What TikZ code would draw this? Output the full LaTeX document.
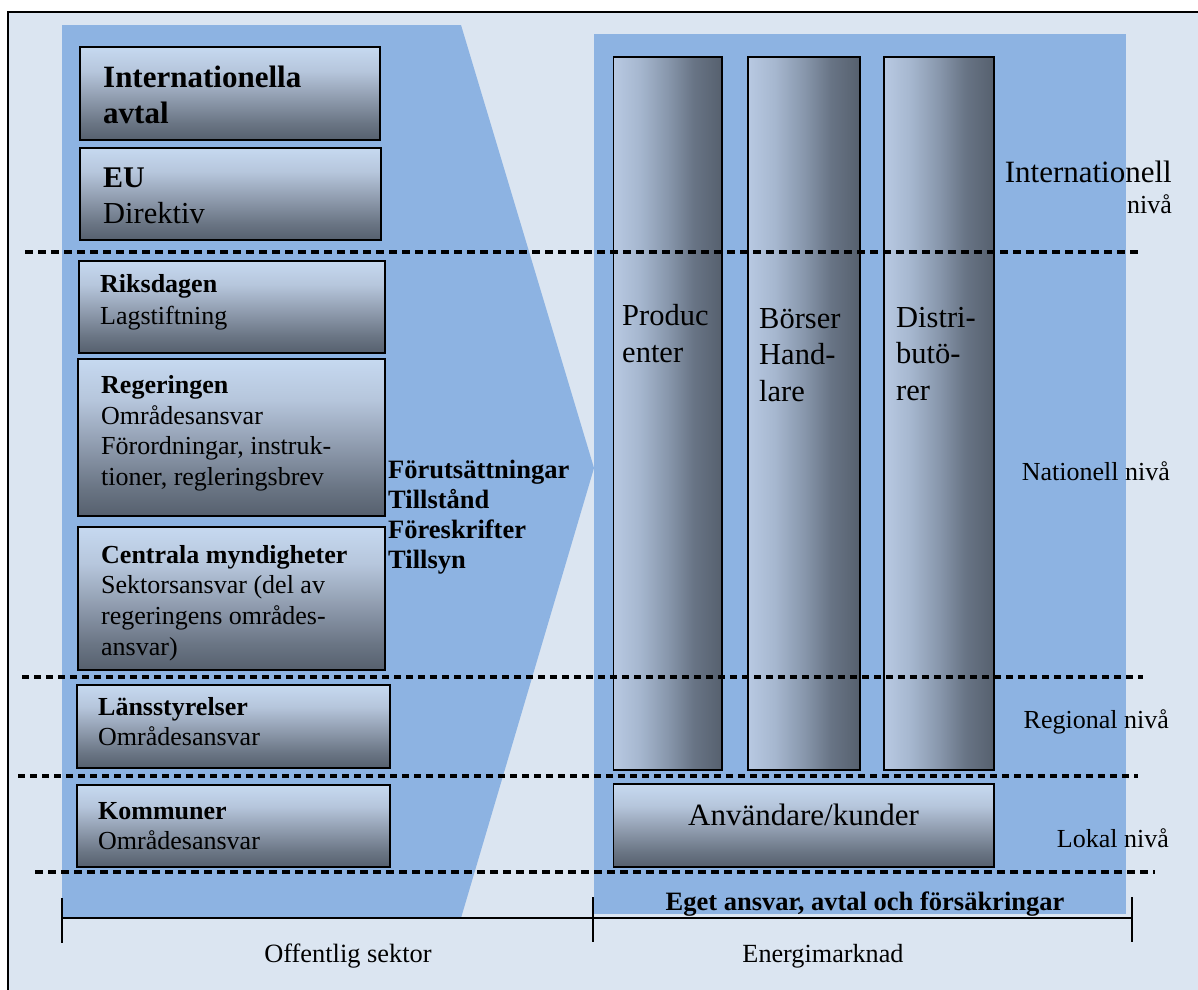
\documentclass[tikz,border=0pt]{standalone}
\usepackage{fontspec}
\setmainfont{Liberation Serif}
\definecolor{bgl}{RGB}{219,229,241}
\definecolor{blu}{RGB}{141,179,226}
\definecolor{bxa}{RGB}{198,217,240}
\definecolor{bxb}{RGB}{182,198,220}
\definecolor{bxc}{RGB}{150,163,182}
\definecolor{bxd}{RGB}{106,117,132}
\definecolor{bxe}{RGB}{86,96,110}
\pgfdeclareverticalshading{boxshade}{100bp}{color(0bp)=(bxe); color(25bp)=(bxe); color(34bp)=(bxd); color(50bp)=(bxc); color(62bp)=(bxb); color(75bp)=(bxa); color(100bp)=(bxa)}
\definecolor{cla}{RGB}{184,201,226}
\definecolor{clb}{RGB}{166,183,207}
\definecolor{clc}{RGB}{136,151,172}
\definecolor{cld}{RGB}{104,116,133}
\definecolor{cle}{RGB}{86,96,110}
\pgfdeclarehorizontalshading{colshade}{100bp}{color(0bp)=(cla); color(25bp)=(cla); color(37bp)=(clb); color(50bp)=(clc); color(62bp)=(cld); color(75bp)=(cle); color(100bp)=(cle)}
\newcommand\myfs[2]{\fontsize{#1}{#2}\selectfont}
\begin{document}
\begin{tikzpicture}[x=1pt,y=-1pt,
  gbox/.style={draw=black, line width=1.5pt, shade, shading=boxshade, inner sep=0, outer sep=0, anchor=north west},
  gcol/.style={draw=black, line width=1.5pt, shade, shading=colshade, inner sep=0, outer sep=0, anchor=north west},
  lbl/.style={inner sep=0, anchor=base west},
  rlbl/.style={inner sep=0, anchor=base east, font=\myfs{26}{31}},
  clbl/.style={inner sep=0, anchor=base},
  dashA/.style={line width=3.2pt, dash pattern=on 8pt off 5pt},
  dashB/.style={line width=3.6pt, dash pattern=on 7pt off 5pt}
]
\useasboundingbox (0,0) rectangle (1198,989);
\clip (0,0) rectangle (1198,989);
\fill[white] (0,0) rectangle (1198,989);
\draw[line width=1.6pt, fill=bgl] (8,12) rectangle (1230,1020);
% blue areas
\fill[blu] (62,25) -- (461,25) -- (594,468) -- (461,918) -- (62,918) -- cycle;
\fill[blu] (594,34) rectangle (1126,914);
% left boxes
\node[gbox, minimum width=300, minimum height=93] (b1) at (80,47) {};
\node[gbox, minimum width=301, minimum height=92] (b2) at (80,148) {};
\node[gbox, minimum width=306, minimum height=92] (b3) at (79,261) {};
\node[gbox, minimum width=307, minimum height=157] (b4) at (78,359) {};
\node[gbox, minimum width=307, minimum height=143] (b5) at (78,527) {};
\node[gbox, minimum width=313, minimum height=83] (b6) at (77,685) {};
\node[gbox, minimum width=313, minimum height=82] (b7) at (77,785) {};
% columns
\node[gcol, minimum width=108.5, minimum height=713] (c1) at (613.5,57) {};
\node[gcol, minimum width=112, minimum height=713] (c2) at (748,57) {};
\node[gcol, minimum width=110, minimum height=713] (c3) at (884,57) {};
\node[gbox, minimum width=380.5, minimum height=83] (c4) at (613.5,784) {};
% left texts
\node[lbl, font=\bfseries\myfs{31}{36}] (t1a) at (103,87) {Internationella};
\node[lbl, font=\bfseries\myfs{31}{36}] (t1b) at (103,123) {avtal};
\node[lbl, font=\bfseries\myfs{30}{36}] (t2a) at (103,187) {EU};
\node[lbl, font=\myfs{30.5}{36}] (t2b) at (103,223) {Direktiv};
\node[lbl, font=\bfseries\myfs{26}{31}] (t3a) at (100,292) {Riksdagen};
\node[lbl, font=\myfs{26}{31}] (t3b) at (100,324) {Lagstiftning};
\node[lbl, font=\bfseries\myfs{26}{31}] (t4a) at (101,393) {Regeringen};
\node[lbl, font=\myfs{26}{31}] (t4b) at (101,424) {Områdesansvar};
\node[lbl, font=\myfs{26}{31}] (t4c) at (101,454) {Förordningar, instruk-};
\node[lbl, font=\myfs{26}{31}] (t4d) at (101,485) {tioner, regleringsbrev};
\node[lbl, font=\bfseries\myfs{26}{31}] (t5a) at (101,563) {Centrala myndigheter};
\node[lbl, font=\myfs{26}{31}] (t5b) at (101,593) {Sektorsansvar (del av};
\node[lbl, font=\myfs{26}{31}] (t5c) at (101,624) {regeringens områdes-};
\node[lbl, font=\myfs{26}{31}] (t5d) at (101,655) {ansvar)};
\node[lbl, font=\bfseries\myfs{26}{31}] (t6a) at (98,715) {Länsstyrelser};
\node[lbl, font=\myfs{26}{31}] (t6b) at (98,745) {Områdesansvar};
\node[lbl, font=\bfseries\myfs{26}{31}] (t7a) at (98,819) {Kommuner};
\node[lbl, font=\myfs{26}{31}] (t7b) at (98,849) {Områdesansvar};
% middle bold texts
\node[lbl, font=\bfseries\myfs{26.5}{30}] (m1) at (388,478) {Förutsättningar};
\node[lbl, font=\bfseries\myfs{26.5}{30}] (m2) at (388,508) {Tillstånd};
\node[lbl, font=\bfseries\myfs{26.5}{30}] (m3) at (388,538) {Föreskrifter};
\node[lbl, font=\bfseries\myfs{26.5}{30}] (m4) at (388,568) {Tillsyn};
% column texts
\node[lbl, font=\myfs{30.5}{37}] (p1) at (622,325) {Produc};
\node[lbl, font=\myfs{30.5}{37}] (p2) at (622,362) {enter};
\node[lbl, font=\myfs{30.5}{37}] (h1) at (759,328) {Börser};
\node[lbl, font=\myfs{30.5}{37}] (h2) at (759,364) {Hand-};
\node[lbl, font=\myfs{30.5}{37}] (h3) at (759,401) {lare};
\node[lbl, font=\myfs{30.5}{37}] (d1) at (896,327) {Distri-};
\node[lbl, font=\myfs{30.5}{37}] (d2) at (896,363) {butö-};
\node[lbl, font=\myfs{30.5}{37}] (d3) at (896,400) {rer};
\node[clbl, font=\myfs{31}{37}] (anv) at (803.5,825) {Användare/kunder};
% right level labels
\node[rlbl, font=\myfs{31}{36}] (r1a) at (1172,182) {Internationell};
\node[rlbl] (r1b) at (1172,213) {nivå};
\node[rlbl] (r2) at (1170,480) {Nationell nivå};
\node[rlbl] (r3) at (1169,728) {Regional nivå};
\node[rlbl] (r4) at (1169,847) {Lokal nivå};
% bottom texts
\node[clbl, font=\bfseries\myfs{26.5}{31}] (eget) at (865,910) {Eget ansvar, avtal och försäkringar};
\node[clbl, font=\myfs{26.4}{31}] (off) at (348,962) {Offentlig sektor};
\node[clbl, font=\myfs{26.2}{31}] (ener) at (823,962) {Energimarknad};
% dashed level lines
\draw[dashA] (25,252) -- (1142,252);
\draw[dashB] (22,677) -- (1143,677);
\draw[dashB] (18,776) -- (1138,776);
\draw[dashA] (35,872) -- (1155,872);
% bracket
\coordinate (k1) at (62,918);
\coordinate (k2) at (593,918);
\coordinate (k3) at (1132,918);
\draw[line width=2pt] (k1) -- (k3);
\draw[line width=2pt] ([yshift=20]k1) -- ([yshift=-25]k1);
\draw[line width=2pt] ([yshift=21]k2) -- ([yshift=-24]k2);
\draw[line width=2pt] ([yshift=21]k3) -- ([yshift=-24]k3);
\end{tikzpicture}
\end{document}
